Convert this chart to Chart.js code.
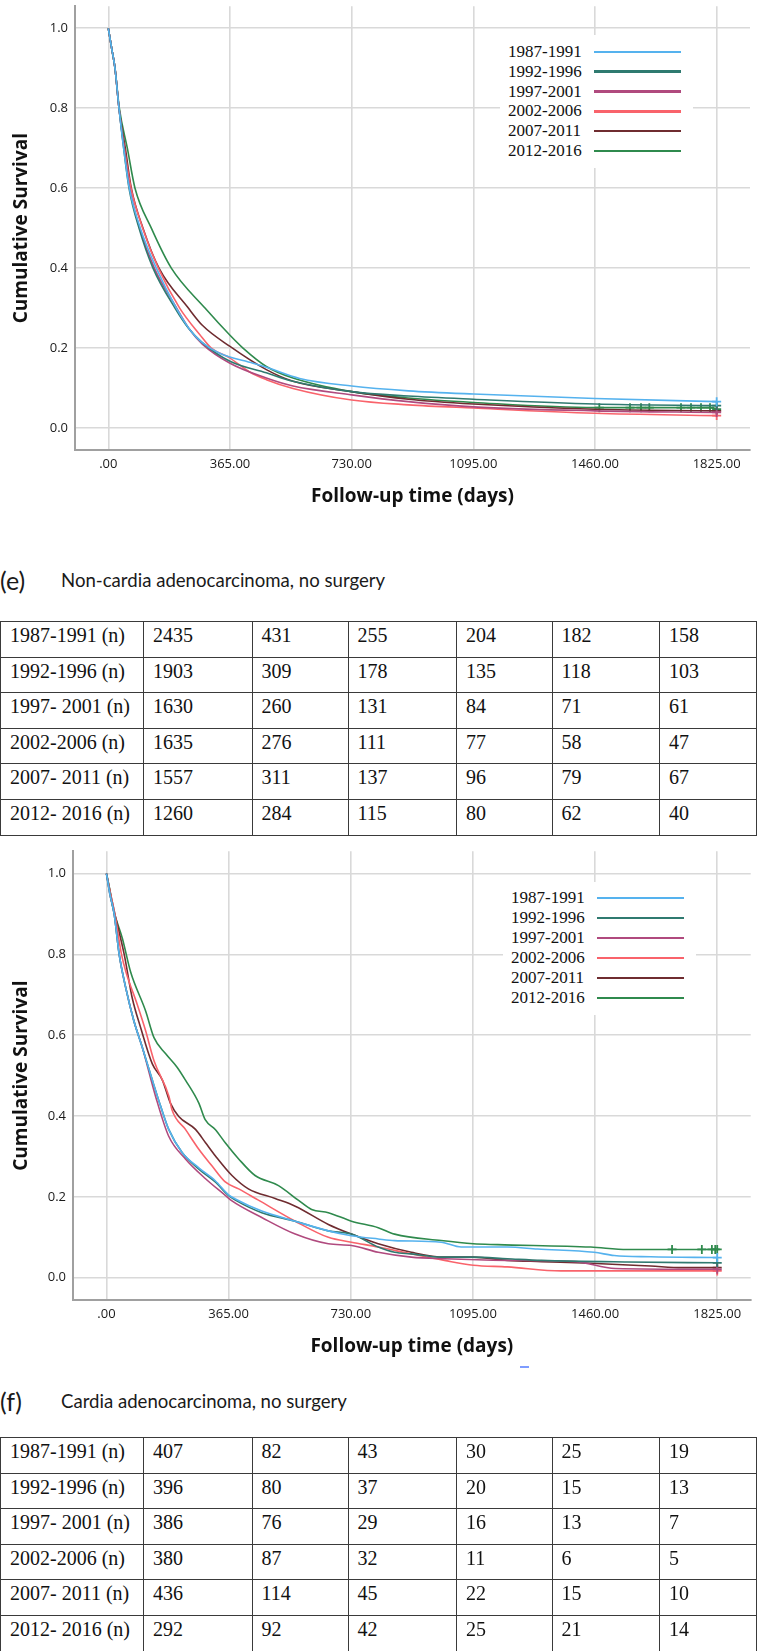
<!DOCTYPE html>
<html>
<head>
<meta charset="utf-8">
<script src="https://cdn.jsdelivr.net/npm/chart.js@4.4.1/dist/chart.umd.min.js"></script>
<style>
html,body{margin:0;padding:0;background:#fff;}
body{width:757px;height:1651px;position:relative;overflow:hidden;}
canvas{position:absolute;left:0;}
.legend{position:absolute;background:#fff;width:193px;height:133px;font-family:"Liberation Serif","Times New Roman",serif;font-size:17px;color:#111;}
.legend .item{position:absolute;left:8px;height:20px;line-height:20px;white-space:nowrap;}
.legend .ln{position:absolute;left:94px;width:87px;height:2.4px;}
.cap{position:absolute;left:0;width:757px;height:40px;font-family:Lato,"Open Sans",sans-serif;color:#1a1a1a;}
.cap .tag{position:absolute;left:0;top:0;font-size:25px;line-height:40px;}
.cap .txt{position:absolute;left:61px;top:0;font-size:18.6px;line-height:40px;}
table{position:absolute;left:0;border-collapse:collapse;table-layout:fixed;font-family:"Liberation Serif","Times New Roman",serif;font-size:20px;color:#111;}
td{border:1.5px solid #3a3a3a;padding:0 0 0 9px;vertical-align:top;line-height:26px;height:34px;box-sizing:border-box;white-space:nowrap;overflow:hidden;}
tr{height:35.6px;}
.dash{position:absolute;left:520px;top:1366px;width:9px;height:2px;background:#7e9cff;}
</style>
</head>
<body>
<canvas id="c1" width="757" height="520" style="top:0px;width:757px;height:520px"></canvas>
<div class="legend" id="lg1" style="left:500px;top:35px"></div>
<div class="cap" style="top:560px"><span class="tag">(e)</span><span class="txt">Non-cardia adenocarcinoma, no surgery</span></div>
<table id="t1" style="top:621px"></table>

<canvas id="c2" width="757" height="525" style="top:845px;width:757px;height:525px"></canvas>
<div class="legend" id="lg2" style="left:503px;top:882px"></div>
<div class="dash"></div>
<div class="cap" style="top:1381px"><span class="tag">(f)</span><span class="txt">Cardia adenocarcinoma, no surgery</span></div>
<table id="t2" style="top:1437px"></table>

<script>
// ---------- axes ----------
const xTickValues = [0, 365, 730, 1095, 1460, 1825];
const xTickLabels = ['.00', '365.00', '730.00', '1095.00', '1460.00', '1825.00'];
const yTickValues = [0, 0.2, 0.4, 0.6, 0.8, 1.0];
const yTickLabels = ['0.0', '0.2', '0.4', '0.6', '0.8', '1.0'];

// ---------- series ----------
const periods = ['1987-1991', '1992-1996', '1997-2001', '2002-2006', '2007-2011', '2012-2016'];
const periodColors = ['#55b2ee', '#2f7a70', '#b04a7e', '#f9636b', '#6f2c30', '#2f8a4d'];

// (e) Non-cardia adenocarcinoma, no surgery  [days, cumulative survival]
const nonCardia1987 = [[0,1],[10,0.95],[20,0.9],[32,0.8],[46,0.7],[63,0.6],[96,0.5],[144,0.4],[204,0.3],[250,0.24],[280,0.215],[334,0.187],[434,0.162],[474,0.152],[574,0.124],[730,0.105],[900,0.093],[1095,0.085],[1460,0.074],[1825,0.066]];
const nonCardia1992 = [[0,1],[10,0.95],[20,0.9],[32,0.8],[46,0.7],[62,0.6],[92,0.5],[134,0.4],[200,0.3],[240,0.25],[280,0.215],[365,0.167],[474,0.138],[554,0.117],[730,0.091],[900,0.080],[1095,0.072],[1460,0.060],[1825,0.056]];
const nonCardia1997 = [[0,1],[10,0.95],[20,0.9],[32,0.8],[47,0.7],[64,0.6],[94,0.5],[138,0.4],[205,0.3],[245,0.245],[282,0.21],[365,0.162],[474,0.125],[554,0.105],[730,0.083],[900,0.066],[1095,0.053],[1460,0.043],[1825,0.039]];
const nonCardia2002 = [[0,1],[10,0.95],[20,0.9],[32,0.8],[48,0.7],[68,0.6],[103,0.5],[150,0.4],[214,0.3],[274,0.234],[309,0.2],[365,0.175],[424,0.14],[474,0.121],[554,0.099],[730,0.070],[900,0.058],[1095,0.050],[1460,0.037],[1825,0.031]];
const nonCardia2007 = [[0,1],[10,0.95],[20,0.9],[32,0.8],[51,0.7],[69,0.6],[104,0.5],[152,0.4],[240,0.3],[282,0.257],[365,0.204],[474,0.146],[554,0.117],[730,0.091],[900,0.072],[1095,0.060],[1460,0.047],[1825,0.043]];
const nonCardia2012 = [[0,1],[10,0.95],[20,0.9],[33,0.8],[57,0.7],[80,0.6],[129,0.5],[189,0.4],[290,0.3],[365,0.232],[404,0.2],[474,0.154],[554,0.125],[730,0.091],[900,0.075],[1095,0.064],[1460,0.051],[1825,0.047]];
// censoring marks (days)
const nonCardiaCensor1987 = [1825];
const nonCardiaCensor1992 = [1825];
const nonCardiaCensor1997 = [1825];
const nonCardiaCensor2002 = [1825];
const nonCardiaCensor2007 = [1825];
const nonCardiaCensor2012 = [1473, 1565, 1598, 1623, 1718, 1748, 1778, 1805, 1825];

// (f) Cardia adenocarcinoma, no surgery
const cardia1987 = [[0,1],[10,0.95],[23,0.9],[38,0.8],[58,0.716],[82,0.635],[107,0.57],[137,0.489],[162,0.424],[186,0.367],[226,0.31],[276,0.272],[325,0.24],[365,0.205],[385,0.195],[464,0.165],[564,0.140],[663,0.116],[732,0.104],[812,0.096],[861,0.092],[1000,0.088],[1060,0.076],[1198,0.076],[1288,0.071],[1457,0.063],[1517,0.055],[1626,0.052],[1825,0.050]];
const cardia1992 = [[0,1],[10,0.95],[23,0.9],[38,0.8],[58,0.716],[82,0.635],[107,0.57],[137,0.489],[162,0.424],[186,0.367],[226,0.31],[276,0.269],[325,0.237],[365,0.203],[385,0.192],[464,0.161],[564,0.140],[663,0.116],[732,0.108],[812,0.076],[861,0.063],[911,0.059],[1000,0.051],[1096,0.051],[1198,0.047],[1300,0.043],[1556,0.039],[1825,0.037]];
const cardia1997 = [[0,1],[10,0.95],[23,0.9],[38,0.8],[58,0.716],[82,0.635],[107,0.57],[147,0.448],[186,0.35],[236,0.294],[296,0.245],[355,0.204],[375,0.19],[464,0.149],[564,0.108],[663,0.084],[732,0.080],[812,0.063],[911,0.051],[1010,0.047],[1198,0.043],[1400,0.040],[1520,0.023],[1825,0.021]];
const cardia2002 = [[0,1],[12,0.95],[25,0.9],[45,0.8],[58,0.757],[92,0.676],[117,0.611],[142,0.537],[187,0.448],[196,0.415],[236,0.367],[276,0.318],[315,0.277],[355,0.237],[395,0.22],[454,0.192],[564,0.140],[663,0.100],[732,0.088],[812,0.076],[911,0.059],[1010,0.043],[1096,0.031],[1198,0.027],[1358,0.017],[1825,0.017]];
const cardia2007 = [[0,1],[12,0.95],[25,0.9],[53,0.8],[77,0.692],[102,0.619],[137,0.529],[167,0.489],[191,0.432],[216,0.399],[266,0.367],[296,0.334],[325,0.302],[375,0.253],[424,0.22],[504,0.196],[564,0.177],[663,0.132],[732,0.108],[812,0.084],[911,0.063],[1010,0.051],[1096,0.051],[1198,0.043],[1300,0.040],[1447,0.036],[1626,0.029],[1720,0.025],[1825,0.025]];
const cardia2012 = [[0,1],[10,0.96],[18,0.92],[48,0.838],[72,0.757],[117,0.66],[142,0.594],[177,0.554],[211,0.521],[236,0.489],[276,0.432],[295,0.391],[325,0.367],[355,0.334],[395,0.294],[444,0.253],[514,0.228],[573,0.192],[613,0.169],[663,0.161],[732,0.140],[812,0.124],[861,0.108],[1000,0.092],[1096,0.084],[1169,0.082],[1447,0.076],[1556,0.070],[1825,0.070]];
const cardiaCensor1987 = [1825];
const cardiaCensor1992 = [1825];
const cardiaCensor1997 = [1825];
const cardiaCensor2002 = [1825];
const cardiaCensor2007 = [1825];
const cardiaCensor2012 = [1690, 1779, 1809, 1819, 1825];

// ---------- tables (numbers at risk) ----------
const tableRowLabels = ['1987-1991 (n)', '1992-1996 (n)', '1997- 2001 (n)', '2002-2006 (n)', '2007- 2011 (n)', '2012- 2016 (n)'];
const nonCardiaN1987 = [2435, 431, 255, 204, 182, 158];
const nonCardiaN1992 = [1903, 309, 178, 135, 118, 103];
const nonCardiaN1997 = [1630, 260, 131, 84, 71, 61];
const nonCardiaN2002 = [1635, 276, 111, 77, 58, 47];
const nonCardiaN2007 = [1557, 311, 137, 96, 79, 67];
const nonCardiaN2012 = [1260, 284, 115, 80, 62, 40];
const cardiaN1987 = [407, 82, 43, 30, 25, 19];
const cardiaN1992 = [396, 80, 37, 20, 15, 13];
const cardiaN1997 = [386, 76, 29, 16, 13, 7];
const cardiaN2002 = [380, 87, 32, 11, 6, 5];
const cardiaN2007 = [436, 114, 45, 22, 15, 10];
const cardiaN2012 = [292, 92, 42, 25, 21, 14];

const colWidths = [143, 108.5, 96, 108.5, 95.5, 107.5, 97];

function buildTable(id, rows) {
  const t = document.getElementById(id);
  const cg = document.createElement('colgroup');
  colWidths.forEach(w => { const c = document.createElement('col'); c.style.width = w + 'px'; cg.appendChild(c); });
  t.appendChild(cg);
  const tb = document.createElement('tbody');
  rows.forEach((r, i) => {
    const tr = document.createElement('tr');
    const th = document.createElement('td'); th.textContent = tableRowLabels[i]; tr.appendChild(th);
    r.forEach(v => { const td = document.createElement('td'); td.textContent = v; tr.appendChild(td); });
    tb.appendChild(tr);
  });
  t.appendChild(tb);
  t.style.width = colWidths.reduce((a, b) => a + b, 0) + 'px';
}
buildTable('t1', [nonCardiaN1987, nonCardiaN1992, nonCardiaN1997, nonCardiaN2002, nonCardiaN2007, nonCardiaN2012]);
buildTable('t2', [cardiaN1987, cardiaN1992, cardiaN1997, cardiaN2002, cardiaN2007, cardiaN2012]);

function buildLegend(id, tops) {
  const lg = document.getElementById(id);
  periods.forEach((p, i) => {
    const it = document.createElement('div'); it.className = 'item'; it.style.top = (tops + i * 19.9 - 10) + 'px'; it.textContent = p; lg.appendChild(it);
    const ln = document.createElement('div'); ln.className = 'ln'; ln.style.top = (tops + i * 19.9 - 1.2) + 'px'; ln.style.background = periodColors[i]; lg.appendChild(ln);
  });
}
buildLegend('lg1', 16.7);
buildLegend('lg2', 16.3);

function stepValueAt(series, t) {
  let v = series[0][1];
  for (const [d, s] of series) { if (d <= t) v = s; }
  return v;
}
function toPoints(series, censor) {
  const pts = series.map(([d, s]) => ({x: d, y: s, c: false}));
  censor.forEach(t => {
    const ex = pts.find(p => p.x === t);
    if (ex) ex.c = true; else pts.push({x: t, y: stepValueAt(series, t), c: true});
  });
  pts.sort((a, b) => a.x - b.x);
  return pts;
}

function makeChart(id, seriesList, censorList, yAxisWidth, rightPad) {
  const datasets = seriesList.map((s, i) => ({
    label: periods[i],
    data: toPoints(s, censorList[i]),
    borderColor: periodColors[i],
    backgroundColor: periodColors[i],
    borderWidth: 1.6,
    cubicInterpolationMode: 'monotone',
    pointStyle: 'cross',
    pointRadius: ctx => (ctx.raw && ctx.raw.c) ? 4.5 : 0,
    pointBorderWidth: 1.8,
    pointBorderColor: periodColors[i],
    pointHoverRadius: 0
  }));
  return new Chart(document.getElementById(id), {
    type: 'line',
    data: {datasets},
    options: {
      responsive: false,
      animation: false,
      layout: {padding: {left: 0, right: rightPad, top: 0, bottom: 0}},
      plugins: {legend: {display: false}, tooltip: {enabled: false}},
      scales: {
        x: {
          type: 'linear', min: -100, max: 1925,
          afterBuildTicks: s => { s.ticks = xTickValues.map(v => ({value: v})); },
          afterFit: s => { s.height = 70; s.paddingLeft = 0; s.paddingRight = 0; },
          ticks: {autoSkip: false, maxRotation: 0, minRotation: 0, padding: 6, color: '#1a1a1a',
                  font: {family: 'Open Sans', size: 13},
                  callback: (v, i) => xTickLabels[i]},
          grid: {color: '#d9d9d9', lineWidth: 1.6, drawTicks: false},
          border: {display: true, color: '#a0a0a0', width: 2},
          title: {display: true, text: 'Follow-up time (days)', color: '#111',
                  font: {family: 'Open Sans', size: 19, weight: 'bold'}, padding: {top: 0, bottom: 11.6}}
        },
        y: {
          type: 'linear', min: -0.055, max: 1.055,
          afterBuildTicks: s => { s.ticks = yTickValues.map(v => ({value: v})); },
          afterFit: s => { s.width = yAxisWidth; s.paddingTop = 0; s.paddingBottom = 0; },
          ticks: {padding: 7, color: '#1a1a1a', font: {family: 'Open Sans', size: 13},
                  callback: (v, i) => yTickLabels[i]},
          grid: {color: '#d9d9d9', lineWidth: 1.6, drawTicks: false},
          border: {display: true, color: '#a0a0a0', width: 2},
          title: {display: true, text: 'Cumulative Survival', color: '#111',
                  font: {family: 'Open Sans', size: 19, weight: 'bold'}, padding: {top: 10.6, bottom: 0}}
        }
      }
    }
  });
}

function draw() {
  makeChart('c1',
    [nonCardia1987, nonCardia1992, nonCardia1997, nonCardia2002, nonCardia2007, nonCardia2012],
    [nonCardiaCensor1987, nonCardiaCensor1992, nonCardiaCensor1997, nonCardiaCensor2002, nonCardiaCensor2007, nonCardiaCensor2012],
    75, 7);
  makeChart('c2',
    [cardia1987, cardia1992, cardia1997, cardia2002, cardia2007, cardia2012],
    [cardiaCensor1987, cardiaCensor1992, cardiaCensor1997, cardiaCensor2002, cardiaCensor2007, cardiaCensor2012],
    73, 4);
}
const fontLoads = ['13px "Open Sans"', 'bold 19px "Open Sans"'].map(f => document.fonts ? document.fonts.load(f) : Promise.resolve());
Promise.all(fontLoads).then(draw, draw);
</script>
</body>
</html>
